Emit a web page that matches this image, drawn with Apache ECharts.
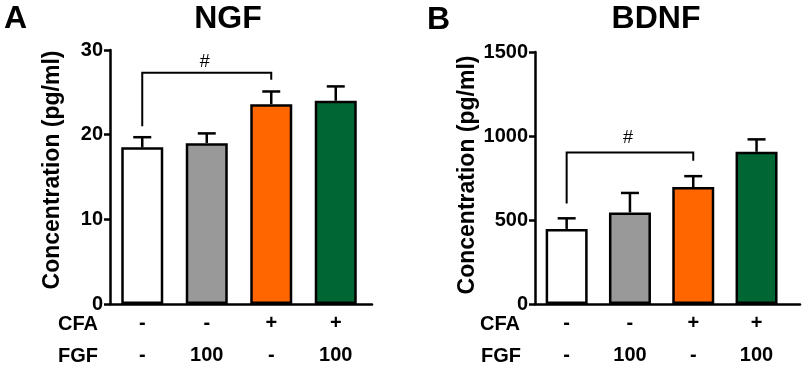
<!DOCTYPE html>
<html>
<head>
<meta charset="utf-8">
<script src="https://cdn.jsdelivr.net/npm/echarts@6/dist/echarts.min.js"></script>
<style>
html,body{margin:0;padding:0;background:#fff;}
#chart{width:807px;height:371px;}
</style>
</head>
<body>
<div id="chart"></div>
<script>
// ---- data ----
const groupIndex = [0, 1, 2, 3];
const cfaLabels = ['-', '-', '+', '+'];
const fgfLabels = ['-', '100', '-', '100'];
const barColors = ['#FFFFFF', '#999999', '#FF6600', '#006633'];

const ngfMean = [18.5, 19.0, 23.6, 24.0];
const ngfSem  = [1.2, 1.15, 1.5, 1.7];
const bdnfMean = [447, 545, 696, 906];
const bdnfSem  = [63, 116, 65, 74];

// bracket: [fromGroup, toGroup, topValue, leftLegEnd, rightLegEnd]
const ngfBracket  = [0, 2, 27.3, 21.0, 26.5];
const bdnfBracket = [0, 2, 902, 598, 853];

const ngfTicks  = {min: 0, max: 30, interval: 10};
const bdnfTicks = {min: 0, max: 1500, interval: 500};

const FONT = 'Arial, "Liberation Sans", sans-serif';
const LW = 2.5;

const chart = echarts.init(document.getElementById('chart'), null, {renderer: 'canvas'});

function barData(means) {
  return means.map((v, i) => ({
    value: [groupIndex[i], v],
    itemStyle: {color: barColors[i]}
  }));
}
function errData(means, sems) {
  return means.map((v, i) => [groupIndex[i], v, v + sems[i]]);
}
function errRender(params, api) {
  const base = api.coord([api.value(0), api.value(1)]);
  const top = api.coord([api.value(0), api.value(2)]);
  const style = {stroke: '#000', lineWidth: LW, fill: null};
  return {
    type: 'group',
    children: [
      {type: 'line', shape: {x1: base[0], y1: base[1], x2: top[0], y2: top[1]}, style},
      {type: 'line', shape: {x1: top[0] - 9, y1: top[1], x2: top[0] + 9, y2: top[1]}, style}
    ]
  };
}
function bracketRender(textGap) {
  return function (params, api) {
    const x0 = api.value(0), x1 = api.value(1);
    const yt = api.value(2), y0 = api.value(3), y1 = api.value(4);
    const p1 = api.coord([x0, y0]);
    const p2 = api.coord([x0, yt]);
    const p3 = api.coord([x1, yt]);
    const p4 = api.coord([x1, y1]);
    return {
      type: 'group',
      children: [
        {type: 'polyline', shape: {points: [p1, p2, p3, p4]},
         style: {stroke: '#000', lineWidth: 2, fill: null}},
        {type: 'text', x: (p2[0] + p3[0]) / 2 - 2, y: p2[1] - textGap,
         style: {text: '#', font: '18px ' + FONT, fill: '#000', align: 'center', verticalAlign: 'middle'}}
      ]
    };
  };
}

function xAxisCfg(gridIndex, max) {
  return {
    type: 'value', gridIndex, min: -0.5, max,
    splitLine: {show: false},
    axisLine: {show: true, onZero: false, lineStyle: {color: '#000', width: LW}},
    axisTick: {show: false},
    axisLabel: {
      show: true,
      customValues: groupIndex,
      formatter: (v) => cfaLabels[Math.round(v)] + '\n' + fgfLabels[Math.round(v)],
      color: '#000', fontWeight: 'bold', fontSize: 20, fontFamily: FONT,
      lineHeight: 32, margin: 3
    }
  };
}
function yAxisCfg(gridIndex, ticks, nameGap, shift) {
  return {
    type: 'value', gridIndex, min: ticks.min, max: ticks.max, interval: ticks.interval,
    name: 'Concentration (pg/ml)', nameLocation: 'middle', nameGap,
    nameTextStyle: {color: '#000', fontWeight: 'bold', fontSize: 23, fontFamily: FONT,
                    padding: [0, 0, 0, shift]},
    splitLine: {show: false},
    axisLine: {show: true, onZero: false, lineStyle: {color: '#000', width: LW}},
    axisTick: {show: true, length: 6, lineStyle: {color: '#000', width: LW}},
    axisLabel: {color: '#000', fontWeight: 'bold', fontSize: 20, fontFamily: FONT, margin: 7,
                formatter: (v) => String(v)}
  };
}

const option = {
  backgroundColor: '#fff',
  animation: false,
  grid: [
    {left: 110, top: 50, width: 262, height: 255},
    {left: 535, top: 52, width: 265, height: 255}
  ],
  xAxis: [xAxisCfg(0, -0.5 + 262 / 64.5), xAxisCfg(1, -0.5 + 265 / 63.3)],
  yAxis: [yAxisCfg(0, ngfTicks, 46, 14), yAxisCfg(1, bdnfTicks, 55, 6)],
  graphic: [
    {type: 'text', x: 4, y: 19, style: {text: 'A', font: 'bold 32px ' + FONT, fill: '#000', verticalAlign: 'middle'}},
    {type: 'text', x: 427, y: 20, style: {text: 'B', font: 'bold 32px ' + FONT, fill: '#000', verticalAlign: 'middle'}},
    {type: 'text', x: 228, y: 19, style: {text: 'NGF', font: 'bold 32px ' + FONT, fill: '#000', align: 'center', verticalAlign: 'middle'}},
    {type: 'text', x: 656, y: 19, style: {text: 'BDNF', font: 'bold 32px ' + FONT, fill: '#000', align: 'center', verticalAlign: 'middle'}},
    {type: 'text', x: 58, y: 324, style: {text: 'CFA', font: 'bold 20px ' + FONT, fill: '#000', verticalAlign: 'middle'}},
    {type: 'text', x: 58, y: 356, style: {text: 'FGF', font: 'bold 20px ' + FONT, fill: '#000', verticalAlign: 'middle'}},
    {type: 'text', x: 480, y: 324, style: {text: 'CFA', font: 'bold 20px ' + FONT, fill: '#000', verticalAlign: 'middle'}},
    {type: 'text', x: 481, y: 356, style: {text: 'FGF', font: 'bold 20px ' + FONT, fill: '#000', verticalAlign: 'middle'}}
  ],
  series: [
    {type: 'bar', xAxisIndex: 0, yAxisIndex: 0, barWidth: 42, data: barData(ngfMean),
     itemStyle: {borderColor: '#000', borderWidth: LW}},
    {type: 'custom', xAxisIndex: 0, yAxisIndex: 0, renderItem: errRender, data: errData(ngfMean, ngfSem), z: 3},
    {type: 'custom', xAxisIndex: 0, yAxisIndex: 0, renderItem: bracketRender(11), data: [ngfBracket], z: 3},
    {type: 'bar', xAxisIndex: 1, yAxisIndex: 1, barWidth: 42, data: barData(bdnfMean),
     itemStyle: {borderColor: '#000', borderWidth: LW}},
    {type: 'custom', xAxisIndex: 1, yAxisIndex: 1, renderItem: errRender, data: errData(bdnfMean, bdnfSem), z: 3},
    {type: 'custom', xAxisIndex: 1, yAxisIndex: 1, renderItem: bracketRender(14), data: [bdnfBracket], z: 3}
  ]
};
chart.setOption(option);
</script>
</body>
</html>
